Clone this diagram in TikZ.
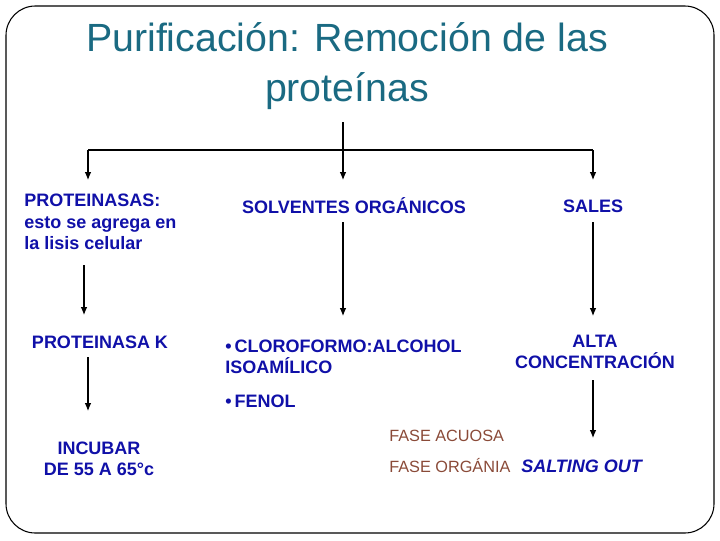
\documentclass[tikz,border=0pt]{standalone}
\usepackage{fontspec}
\setmainfont{Liberation Sans}
\begin{document}
\begin{tikzpicture}[x=0.75pt,y=-0.75pt,
 lbl/.style={font=\fontsize{13.5}{16}\selectfont\bfseries,text=blueT,inner sep=0pt},
 br/.style={font=\fontsize{12.2}{14}\selectfont,text=brownT,inner sep=0pt,anchor=west},
 arr/.style={-{Latex[length=6pt,width=5pt]},thick},
 ln/.style={thick}]
\usetikzlibrary{arrows.meta}
\definecolor{blueT}{HTML}{1010A8}
\definecolor{teal}{HTML}{1A6A82}
\definecolor{brownT}{HTML}{8A4A38}
\useasboundingbox (0,0) rectangle (720,540);
\draw[thick,rounded corners=22] (6,6) rectangle (714,533);
\node[font=\fontsize{29.5}{37}\selectfont,text=teal,align=center] (title) at (347,66) {Purificación: Remoción de las\\proteínas};
\coordinate (t0) at (343,122);
\coordinate (t1) at (343,150);
\coordinate (l1) at (88,150);
\coordinate (r1) at (593,150);
\draw[ln] (t0)--(t1);
\draw[ln] (l1)--(r1);
\node[lbl,align=left,anchor=west] (prot) at (24,222) {PROTEINASAS:\\esto se agrega en\\la lisis celular};
\node[lbl] (solv) at (354,206) {SOLVENTES ORGÁNICOS};
\node[lbl] (sales) at (593,206) {SALES};
\node[lbl] (pk) at (100,342) {PROTEINASA K};
\node[lbl,align=left,anchor=west] (clor) at (225,357) {\textbullet\,CLOROFORMO:ALCOHOL\\ISOAMÍLICO};
\node[lbl,anchor=west] (fen) at (225,401) {\textbullet\,FENOL};
\node[lbl,align=center] (alta) at (595,352) {ALTA\\CONCENTRACIÓN};
\node[lbl,align=center] (inc) at (99,459) {INCUBAR\\DE 55 A 65°c};
\node[br] (fa) at (389,436) {FASE ACUOSA};
\node[br] (fo) at (389,466) {FASE ORGÁNIA};
\node[lbl,anchor=west,font=\fontsize{13.5}{16}\selectfont\bfseries\itshape] (so) at (521,466) {SALTING OUT};
\draw[arr] (l1)--(88,180);
\draw[arr] (t1)--(343,180);
\draw[arr] (r1)--(593,180);
\draw[arr] (84,265)--(84,315);
\draw[arr] (343,222)--(343,316);
\draw[arr] (593,222)--(593,316);
\draw[arr] (88,357)--(88,411);
\draw[arr] (593,380)--(593,438);
\end{tikzpicture}
\end{document}
